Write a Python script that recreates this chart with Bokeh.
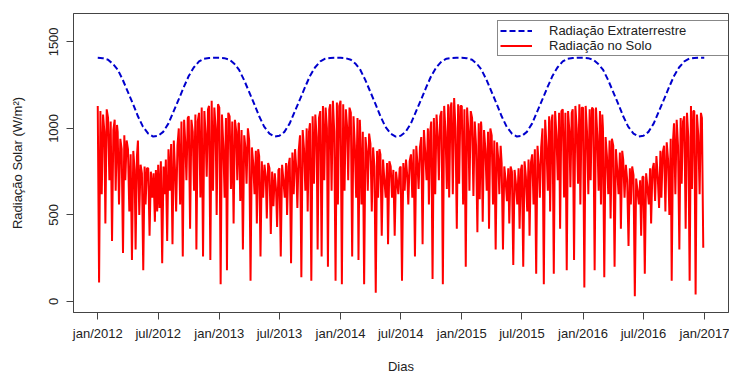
import datetime as dt
from bokeh.plotting import figure
from bokeh.models import Range1d, FixedTicker, Legend, LegendItem, ColumnDataSource
from bokeh.embed import file_html
from bokeh.resources import INLINE

# ---------------- data ----------------
years = [2012, 2013, 2014, 2015, 2016]
solo_days = [1, 5, 9, 13, 17, 21, 24, 28]   # sampled days of each month
extra_days = [1, 16]

# Radiação no Solo (W/m²), 8 samples per month
solo_2012 = [1130, 110, 1100, 620, 1080, 980, 450, 1110,
             1060, 700, 1040, 350, 990, 1050, 640, 1020,
             980, 560, 940, 880, 280, 960, 700, 930,
             880, 520, 850, 240, 870, 760, 300, 840,
             930, 500, 790, 740, 180, 780, 560, 770,
             770, 380, 750, 600, 740, 460, 760, 520,
             790, 540, 810, 220, 780, 620, 820, 350,
             880, 640, 910, 330, 930, 740, 520, 900,
             1000, 560, 1040, 260, 1050, 900, 700, 1060,
             1070, 420, 1050, 980, 640, 1080, 300, 1040,
             1090, 600, 1120, 260, 1100, 950, 720, 1110,
             1130, 240, 1160, 640, 1120, 1000, 500, 1140]
solo_2013 = [1120, 100, 1080, 900, 600, 1060, 180, 1090,
             1070, 650, 1040, 450, 1050, 980, 700, 1030,
             1030, 580, 990, 300, 960, 880, 680, 1000,
             930, 120, 890, 800, 620, 870, 450, 880,
             840, 260, 810, 600, 790, 720, 480, 800,
             770, 390, 750, 550, 740, 640, 430, 760,
             770, 260, 790, 700, 600, 800, 500, 780,
             830, 220, 860, 620, 880, 760, 540, 870,
             960, 140, 990, 880, 640, 1000, 520, 980,
             1030, 120, 1070, 680, 1080, 950, 300, 1060,
             1100, 260, 1130, 700, 1120, 1000, 200, 1110,
             1140, 640, 1160, 980, 120, 1150, 560, 1130]
solo_2014 = [1160, 100, 1140, 640, 1110, 1000, 700, 1120,
             1090, 260, 1070, 900, 600, 1060, 240, 1050,
             1000, 560, 980, 100, 950, 860, 640, 970,
             910, 520, 890, 780, 50, 870, 600, 880,
             850, 380, 820, 700, 600, 800, 330, 810,
             780, 600, 760, 380, 750, 680, 620, 770,
             780, 120, 800, 640, 820, 720, 560, 810,
             850, 600, 880, 260, 900, 780, 650, 890,
             950, 330, 990, 860, 700, 1000, 560, 980,
             1040, 130, 1060, 620, 1080, 940, 700, 1070,
             1100, 100, 1130, 980, 650, 1140, 600, 1120,
             1150, 620, 1175, 1000, 420, 1140, 680, 1130]
solo_2015 = [1130, 560, 1110, 200, 1120, 980, 640, 1100,
             1060, 610, 1040, 900, 400, 1030, 590, 1040,
             1010, 460, 990, 880, 640, 980, 420, 1000,
             960, 560, 930, 300, 920, 820, 620, 900,
             800, 300, 780, 700, 580, 770, 450, 780,
             750, 210, 760, 680, 560, 770, 420, 760,
             790, 200, 810, 720, 520, 820, 380, 800,
             850, 560, 880, 160, 900, 780, 600, 890,
             1000, 100, 1050, 900, 640, 1070, 520, 1040,
             1080, 160, 1100, 960, 700, 1090, 420, 1100,
             1110, 600, 1090, 180, 1100, 980, 660, 1090,
             1110, 240, 1130, 1000, 680, 1140, 560, 1120]
solo_2016 = [1120, 80, 1130, 980, 620, 1110, 700, 1120,
             1110, 180, 1120, 960, 640, 1100, 560, 1080,
             1000, 140, 950, 840, 620, 930, 480, 940,
             900, 200, 880, 760, 620, 860, 420, 870,
             820, 600, 790, 700, 320, 770, 560, 780,
             730, 30, 710, 640, 560, 700, 380, 720,
             720, 160, 740, 660, 560, 770, 450, 760,
             800, 580, 840, 720, 540, 870, 600, 860,
             900, 520, 920, 820, 500, 940, 120, 930,
             1030, 620, 1050, 900, 300, 1060, 680, 1040,
             1070, 420, 1090, 950, 120, 1130, 650, 1100,
             1100, 40, 1080, 960, 620, 1090, 1060, 310]

# Radiação Extraterrestre (W/m²), 1st and 16th of each month
extra_2012 = [1408, 1406, 1397, 1372, 1340, 1282, 1210, 1142, 1070, 1010, 970, 953,
              957, 980, 1029, 1097, 1169, 1238, 1303, 1352, 1387, 1403, 1407, 1408]
extra_2013 = [1408, 1406, 1397, 1372, 1340, 1282, 1210, 1142, 1070, 1010, 970, 953,
              957, 980, 1029, 1097, 1169, 1238, 1303, 1352, 1387, 1403, 1407, 1408]
extra_2014 = [1408, 1406, 1397, 1372, 1340, 1282, 1210, 1142, 1070, 1010, 970, 953,
              957, 980, 1029, 1097, 1169, 1238, 1303, 1352, 1387, 1403, 1407, 1408]
extra_2015 = [1408, 1406, 1397, 1372, 1340, 1282, 1210, 1142, 1070, 1010, 970, 953,
              957, 980, 1029, 1097, 1169, 1238, 1303, 1352, 1387, 1403, 1407, 1408]
extra_2016 = [1408, 1406, 1397, 1372, 1340, 1282, 1210, 1142, 1070, 1010, 970, 953,
              957, 980, 1029, 1097, 1169, 1238, 1303, 1352, 1387, 1403, 1407, 1408]
extra_last = 1408  # 31/12/2016

tick_labels = ["jan/2012", "jul/2012", "jan/2013", "jul/2013", "jan/2014", "jul/2014",
               "jan/2015", "jul/2015", "jan/2016", "jul/2016", "jan/2017"]
tick_dates = [(2012, 1), (2012, 7), (2013, 1), (2013, 7), (2014, 1), (2014, 7),
              (2015, 1), (2015, 7), (2016, 1), (2016, 7), (2017, 1)]
y_ticks = [0, 500, 1000, 1500]

# ---------------- build ----------------
start = dt.date(2012, 1, 1)


def day(y, m, d):
    return (dt.date(y, m, d) - start).days


solo_x = [day(y, m, d) for y in years for m in range(1, 13) for d in solo_days]
solo_y = solo_2012 + solo_2013 + solo_2014 + solo_2015 + solo_2016
extra_x = [day(y, m, d) for y in years for m in range(1, 13) for d in extra_days] + [day(2016, 12, 31)]
extra_y = extra_2012 + extra_2013 + extra_2014 + extra_2015 + extra_2016 + [extra_last]

tick_x = [day(y, m, 1) for (y, m) in tick_dates]

FONT = "Liberation Sans"
AX = "#444444"
TXT = "#222222"

p = figure(width=729, height=376, output_backend="svg", toolbar_location=None,
           x_range=Range1d(-73, 1899), y_range=Range1d(-64, 1664),
           min_border_left=73, min_border_right=1, min_border_top=13, min_border_bottom=64,
           background_fill_color="white", border_fill_color="white")
p.xgrid.visible = False
p.ygrid.visible = False
p.outline_line_color = AX
p.outline_line_width = 1

src_solo = ColumnDataSource(dict(x=solo_x, y=solo_y))
src_extra = ColumnDataSource(dict(x=extra_x, y=extra_y))
r_solo = p.line("x", "y", source=src_solo, line_color="#FF0000", line_width=2)
r_extra = p.line("x", "y", source=src_extra, line_color="#0000CD", line_width=2, line_dash="6 3")

# x axis
xa = p.xaxis[0]
xa.ticker = FixedTicker(ticks=tick_x)
xa.major_label_overrides = {t: lab for t, lab in zip(tick_x, tick_labels)}
xa.minor_tick_line_color = None
xa.major_tick_in = 0
xa.major_tick_out = 7
xa.axis_line_color = AX
xa.major_tick_line_color = AX
xa.major_label_standoff = 6
xa.major_label_text_font = FONT
xa.major_label_text_font_size = "13px"
xa.major_label_text_color = TXT
xa.axis_label = "Dias"
xa.axis_label_text_font = FONT
xa.axis_label_text_font_size = "13px"
xa.axis_label_text_font_style = "normal"
xa.axis_label_text_color = TXT
xa.axis_label_standoff = 15

# y axis
ya = p.yaxis[0]
ya.ticker = FixedTicker(ticks=y_ticks)
ya.minor_tick_line_color = None
ya.major_tick_in = 0
ya.major_tick_out = 7
ya.axis_line_color = AX
ya.major_tick_line_color = AX
ya.major_label_orientation = "vertical"
ya.major_label_standoff = 8
ya.major_label_text_font = FONT
ya.major_label_text_font_size = "13px"
ya.major_label_text_color = TXT
ya.axis_label = "Radiação Solar (W/m²)"
ya.axis_label_text_font = FONT
ya.axis_label_text_font_size = "13px"
ya.axis_label_text_font_style = "normal"
ya.axis_label_text_color = TXT
ya.axis_label_standoff = 22

legend = Legend(items=[LegendItem(label="Radiação Extraterrestre", renderers=[r_extra]),
                       LegendItem(label="Radiação no Solo", renderers=[r_solo])],
                location=(424, 256), orientation="vertical", padding=2, margin=0, spacing=0,
                glyph_width=32, glyph_height=13, label_height=13, label_width=177,
                label_standoff=17, label_text_font=FONT, label_text_font_size="13px",
                label_text_color=TXT, border_line_color="#111111", border_line_width=1,
                background_fill_color="white", background_fill_alpha=1.0)
p.add_layout(legend)

open("out.html", "w").write(file_html(p, INLINE))
